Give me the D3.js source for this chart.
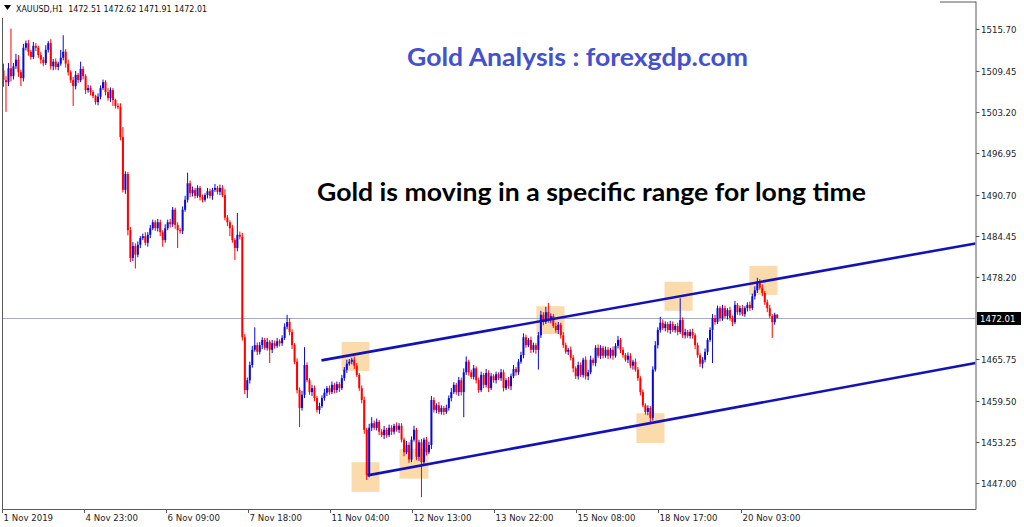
<!DOCTYPE html>
<html><head><meta charset="utf-8">
<script src="https://cdn.jsdelivr.net/npm/d3@7"></script>
<style>html,body{margin:0;padding:0;background:#fff;overflow:hidden}</style>
</head><body><svg id="c" width="1024" height="527"></svg>
<script>
// ---------------- data ----------------
const symbol = "XAUUSD,H1";
const firstOpen = 1509.5;
const closes = [
 1508.0,1507.7,1509.8,1508.6,1510.1,1511.1,1509.2,1508.3,1512.9,1513.6,
 1512.3,1511.5,1513.2,1512.9,1511.8,1511.1,1510.6,1512.6,1513.6,1510.1,
 1510.8,1510.0,1510.5,1511.4,1512.3,1510.5,1509.2,1508.0,1507.1,1508.8,
 1508.0,1509.7,1508.6,1506.5,1506.8,1506.2,1505.6,1504.7,1505.5,1506.8,
 1507.7,1506.2,1505.3,1506.5,1505.0,1504.1,1503.9,1499.4,1491.4,1493.8,
 1485.3,1481.1,1482.9,1481.6,1483.1,1484.1,1484.4,1483.4,1484.6,1485.6,
 1486.5,1485.6,1486.5,1485.0,1483.8,1485.6,1486.5,1486.2,1488.4,1486.1,
 1485.3,1485.2,1488.4,1489.9,1492.4,1490.9,1491.4,1490.5,1491.7,1490.3,
 1489.9,1490.6,1491.2,1490.5,1491.4,1491.7,1491.1,1491.7,1490.6,1487.2,
 1486.5,1485.6,1483.8,1482.6,1484.6,1484.3,1469.1,1461.1,1462.6,1464.9,
 1467.2,1467.9,1466.9,1467.9,1468.7,1467.5,1468.4,1467.2,1468.2,1467.8,
 1468.5,1468.2,1469.0,1470.7,1471.4,1469.9,1467.9,1465.4,1461.1,1458.4,
 1460.4,1464.9,1462.6,1460.8,1461.4,1459.9,1458.1,1458.7,1459.9,1460.7,
 1461.4,1460.8,1461.9,1461.1,1462.0,1461.4,1462.9,1464.2,1465.1,1465.4,
 1465.7,1464.8,1463.4,1461.4,1459.6,1455.1,1448.3,1455.4,1456.1,1455.4,
 1456.3,1454.8,1454.3,1455.1,1454.3,1455.4,1454.8,1455.7,1455.1,1455.7,
 1453.6,1451.7,1452.8,1450.6,1453.6,1455.1,1451.0,1453.2,1450.2,1453.6,
 1451.7,1452.8,1459.6,1458.1,1458.8,1457.8,1458.4,1457.8,1458.4,1459.9,
 1460.8,1461.9,1460.8,1462.6,1460.8,1463.8,1465.4,1463.8,1463.1,1464.4,
 1462.6,1461.1,1463.4,1461.9,1463.7,1461.4,1463.2,1462.6,1463.5,1462.9,
 1463.8,1461.4,1462.6,1461.7,1463.2,1464.3,1463.8,1465.4,1466.4,1469.1,
 1467.9,1468.7,1467.2,1467.9,1467.2,1469.4,1472.5,1471.4,1472.9,1471.7,
 1472.3,1470.8,1470.2,1471.0,1469.4,1467.9,1466.9,1467.2,1466.0,1464.4,
 1463.2,1464.9,1463.4,1465.7,1463.2,1463.8,1465.7,1465.2,1467.5,1466.3,
 1467.5,1466.3,1467.2,1466.3,1467.2,1466.3,1467.8,1468.7,1467.2,1466.4,
 1465.7,1466.3,1464.8,1465.4,1464.2,1462.9,1460.8,1458.8,1457.8,1458.4,
 1456.9,1464.2,1467.9,1470.2,1471.3,1470.5,1471.1,1470.2,1471.1,1470.2,
 1470.8,1469.9,1471.7,1469.4,1469.9,1469.3,1469.9,1469.4,1467.9,1466.4,
 1465.1,1465.7,1466.9,1468.7,1470.2,1472.0,1471.4,1473.5,1472.0,1473.5,
 1472.3,1473.2,1472.0,1471.4,1474.0,1472.9,1473.5,1472.6,1473.5,1474.0,
 1473.5,1475.3,1476.2,1477.5,1476.6,1475.8,1474.4,1473.5,1472.3,1471.4,
 1472.51,1472.01
];
const upperWick = [
 1.0,0.6,0.8,6.0,0.5,0.9,0.7,0.4,0.6,0.4,
 0.5,0.3,0.6,0.4,0.3,0.5,0.4,0.7,0.3,0.6,
 0.4,0.5,0.3,1.2,2.5,0.4,0.6,0.3,0.5,0.6,
 0.3,1.1,0.4,0.3,0.5,0.4,0.3,0.2,0.5,0.4,
 0.4,0.3,0.6,0.4,0.3,0.2,0.4,0.6,1.5,0.4,
 0.3,0.5,0.6,0.4,0.5,0.3,0.4,0.6,0.4,0.5,
 0.4,0.3,0.5,0.4,0.3,0.6,0.4,0.5,0.4,0.3,
 0.4,0.3,0.5,0.6,1.6,0.4,0.5,0.3,0.4,0.3,
 0.4,0.3,0.5,0.4,0.3,0.6,0.3,0.5,0.4,0.9,
 0.4,0.3,0.5,0.3,3.3,0.5,0.6,0.5,0.4,0.5,
 0.6,2.7,0.4,0.5,0.4,0.3,0.6,0.3,0.5,0.4,
 0.5,0.3,0.4,0.5,1.1,0.6,0.4,0.3,0.5,0.4,
 0.6,2.7,0.4,0.3,0.5,0.4,0.3,0.5,0.4,0.6,
 0.3,0.4,0.5,0.3,0.4,0.3,0.5,0.4,0.6,0.4,
 0.3,0.5,0.4,0.3,0.4,0.5,0.3,0.6,0.9,0.4,
 0.5,0.3,0.4,0.6,0.3,0.5,0.4,0.3,0.5,0.4,
 0.4,0.3,0.6,0.4,0.5,0.6,0.3,0.4,0.5,0.3,
 0.4,0.5,0.6,0.4,0.3,0.5,0.4,0.3,0.5,0.4,
 0.6,0.4,0.3,0.5,0.4,0.6,0.8,0.3,0.4,0.5,
 0.3,0.4,0.5,0.3,0.6,0.4,0.5,0.3,0.4,0.3,
 0.5,0.4,0.3,0.5,0.4,0.6,0.3,0.4,0.5,0.6,
 0.4,0.3,0.5,0.4,0.3,0.5,0.6,0.4,0.8,1.4,
 0.4,0.3,0.5,0.4,0.3,0.5,0.4,0.3,0.5,0.4,
 0.3,0.5,0.4,0.3,0.5,0.4,0.6,0.3,0.4,0.5,
 0.4,0.3,0.5,0.4,0.3,0.5,0.4,0.6,0.3,0.4,
 0.3,0.5,0.4,0.3,0.5,0.4,0.3,0.4,0.3,0.4,
 0.3,0.5,0.6,0.4,0.9,0.5,0.4,0.3,0.5,0.4,
 0.3,0.5,3.3,0.4,0.5,0.3,0.4,0.5,0.3,0.4,
 0.3,0.4,0.5,0.3,0.4,0.6,0.5,0.4,0.3,0.5,
 0.4,0.3,0.5,0.4,0.6,0.3,0.4,0.5,0.3,0.4,
 0.5,0.4,0.6,0.6,0.4,0.5,0.3,0.4,0.5,0.3,
 0.3,0.11
];
const lowerWick = [
 1.0,4.5,0.6,0.8,0.5,0.4,0.7,1.2,0.5,0.4,
 0.6,0.4,0.3,0.5,0.4,0.6,0.5,0.3,0.4,0.5,
 0.6,0.4,0.5,0.3,0.4,0.6,0.5,0.4,3.0,0.5,
 0.4,0.3,0.5,0.6,0.4,0.5,0.3,0.4,0.5,0.4,
 0.3,0.5,0.4,0.6,0.9,0.4,0.3,0.5,0.4,0.6,
 0.8,0.6,0.5,2.1,0.4,0.5,0.3,0.4,0.6,0.5,
 0.3,0.4,0.5,0.6,1.0,0.4,0.3,0.5,0.4,0.6,
 2.7,0.4,0.5,0.3,0.4,0.6,0.5,0.4,0.3,0.5,
 0.4,0.3,0.5,0.4,0.6,0.3,0.4,0.5,0.3,0.4,
 0.6,1.2,0.4,1.8,0.5,0.4,0.5,0.6,1.2,0.5,
 0.4,0.3,0.5,0.4,0.6,0.3,0.4,2.0,0.5,0.4,
 0.3,0.5,0.4,0.3,0.4,0.5,0.6,0.4,0.5,2.9,
 0.4,0.5,0.3,0.4,0.6,0.5,0.4,0.6,0.3,0.4,
 0.5,0.4,0.3,0.5,0.4,0.6,0.3,0.4,0.5,0.3,
 0.4,0.5,0.3,0.4,0.5,0.6,0.8,0.4,0.5,0.3,
 0.4,0.5,0.3,0.6,0.4,0.3,0.5,0.4,0.3,0.5,
 0.4,0.6,0.3,0.5,0.4,0.3,0.5,0.6,5.3,0.4,
 0.5,0.3,0.6,0.4,0.5,0.3,0.4,0.5,0.3,0.4,
 0.5,0.3,0.4,0.6,0.5,3.8,0.4,0.5,0.3,0.4,
 0.5,0.4,0.3,0.5,0.4,0.6,0.3,0.4,0.5,0.3,
 0.4,0.5,0.3,0.4,0.6,0.3,0.5,0.4,0.3,0.5,
 0.4,0.3,0.5,0.4,0.6,3.0,0.4,0.5,0.3,0.4,
 0.5,0.3,0.4,0.6,0.5,0.4,0.3,0.5,0.4,0.6,
 0.4,0.5,0.3,0.4,0.5,0.6,0.3,0.4,0.5,0.3,
 0.5,0.4,0.3,0.5,0.4,0.6,0.3,0.4,0.5,0.4,
 0.3,0.5,0.4,0.6,0.3,0.4,0.5,0.3,0.4,0.5,
 0.9,0.4,0.3,0.5,0.4,0.3,0.5,0.4,0.6,0.3,
 0.4,0.5,0.3,0.4,0.5,0.3,0.4,0.5,0.6,0.4,
 0.5,0.7,0.4,0.5,0.3,5.0,0.4,0.3,0.5,0.4,
 0.3,0.5,0.4,0.6,0.3,0.4,0.5,0.3,0.4,0.5,
 0.4,0.3,0.5,0.4,0.3,0.5,0.4,0.6,0.3,2.4,
 0.4,0.10
];
const timeLabels = ["1 Nov 2019","4 Nov 23:00","6 Nov 09:00","7 Nov 18:00","11 Nov 04:00",
                    "12 Nov 13:00","13 Nov 22:00","15 Nov 08:00","18 Nov 17:00","20 Nov 03:00"];
const timeLabelBars = [0,33,66,99,132,165,198,231,264,297];
const priceTicks = [1515.70,1509.45,1503.20,1496.95,1490.70,1484.45,1478.20,1465.75,1459.50,1453.25,1447.00];
const currentPrice = 1472.01;
const channelUpper = [[127.8,1465.6],[390.7,1483.3]];
const channelLower = [[146.3,1448.2],[390.7,1465.2]];
// zones: [firstBar, lastBar, lowPrice, highPrice]
const zones = [
 [135.9,147.1,1464.0,1468.4],
 [139.9,151.1,1445.7,1450.2],
 [159.2,170.8,1447.7,1452.2],
 [214.2,225.5,1469.6,1473.8],
 [254.4,265.7,1453.1,1457.6],
 [265.7,277.0,1473.1,1477.5],
 [299.8,311.1,1475.5,1479.9]
];
const titleText = "Gold Analysis : forexgdp.com";
const noteText = "Gold is moving in a specific range for long time";

// ---------------- build ----------------
const candles = closes.map((c,i)=>{
  const o = i===0 ? firstOpen : closes[i-1];
  return {i, o, c, h: Math.max(o,c)+upperWick[i], l: Math.min(o,c)-lowerWick[i]};
});

const svg = d3.select("#c");
const L = 2, R = 975.5, T = 1.5, B = 509;
const x = d3.scaleLinear().domain([0, 390.7]).range([3.5, 975.5]);
const y = d3.scaleLinear().domain([1447.00, 1515.70]).range([483.3, 29.3]);

svg.append("defs").append("clipPath").attr("id","plot")
  .append("rect").attr("x",L).attr("y",T).attr("width",R-L).attr("height",B-T);

const plot = svg.append("g").attr("clip-path","url(#plot)");

// zones
plot.selectAll("rect.zone").data(zones).join("rect").attr("class","zone")
  .attr("x",d=>x(d[0])).attr("width",d=>x(d[1])-x(d[0]))
  .attr("y",d=>y(d[3])).attr("height",d=>y(d[2])-y(d[3]))
  .attr("fill","#fbd7a3").attr("opacity",0.9);

// current price line
plot.append("line").attr("x1",L).attr("x2",R)
  .attr("y1",Math.round(y(currentPrice))+0.5).attr("y2",Math.round(y(currentPrice))+0.5)
  .attr("stroke","#a3adbf").attr("stroke-width",1);

// candles
const bull = "#0a0ad8", bear = "#ff0000";
const cg = plot.append("g");
cg.selectAll("line.wick").data(candles).join("line").attr("class","wick")
  .attr("x1",d=>x(d.i)).attr("x2",d=>x(d.i))
  .attr("y1",d=>y(d.h)).attr("y2",d=>y(d.l))
  .attr("stroke",d=>d.c>=d.o?bull:bear).attr("stroke-width",1);
cg.selectAll("rect.body").data(candles).join("rect").attr("class","body")
  .attr("x",d=>x(d.i)-1).attr("width",2)
  .attr("y",d=>y(Math.max(d.o,d.c)))
  .attr("height",d=>Math.max(1,Math.abs(y(d.o)-y(d.c))))
  .attr("fill",d=>d.c>=d.o?bull:bear);

// channel lines
const ln = d3.line().x(d=>x(d[0])).y(d=>y(d[1]));
[channelUpper, channelLower].forEach(ch=>{
  plot.append("path").attr("d",ln(ch)).attr("fill","none")
    .attr("stroke","#1212b8").attr("stroke-width",2.6);
});

// frame
const fr = svg.append("g").attr("stroke","#5a5a5a").attr("stroke-width",1).attr("fill","none");
fr.append("line").attr("x1",L+0.5).attr("x2",L+0.5).attr("y1",18).attr("y2",B+0.5);
fr.append("line").attr("x1",L).attr("x2",R+0.5).attr("y1",B+0.5).attr("y2",B+0.5);
fr.append("line").attr("x1",R+0.5).attr("x2",R+0.5).attr("y1",T).attr("y2",B+0.5);
fr.append("line").attr("x1",940).attr("x2",R+0.5).attr("y1",T+0.5).attr("y2",T+0.5);

const axisFont = "DejaVu Sans, Verdana, sans-serif";

// right price axis
const ra = svg.append("g");
priceTicks.forEach(p=>{
  const yy = Math.round(y(p))+0.5;
  ra.append("line").attr("x1",R+0.5).attr("x2",R+4).attr("y1",yy).attr("y2",yy).attr("stroke","#5a5a5a");
  ra.append("text").attr("x",981).attr("y",yy+3).text(p.toFixed(2))
    .attr("font-family",axisFont).attr("font-size",8.6).attr("fill","#222");
});
const cy = Math.round(y(currentPrice))+0.5;
ra.append("rect").attr("x",977).attr("y",cy-6.5).attr("width",44).attr("height",13).attr("fill","#000");
ra.append("text").attr("x",980).attr("y",cy+3.2).text(currentPrice.toFixed(2))
  .attr("font-family",axisFont).attr("font-size",8.6).attr("fill","#fff");

// bottom time axis
const ba = svg.append("g");
timeLabelBars.forEach((b,k)=>{
  const xx = Math.round(x(b)-1.8)+0.5;
  ba.append("line").attr("x1",xx).attr("x2",xx).attr("y1",B).attr("y2",B+4).attr("stroke","#5a5a5a");
  ba.append("text").attr("x",xx+1).attr("y",521).text(timeLabels[k])
    .attr("font-family",axisFont).attr("font-size",8.6).attr("fill","#222");
});

// header
const last = candles[candles.length-1];
svg.append("path").attr("d","M4,5 L11,5 L7.5,10 Z").attr("fill","#000");
svg.append("text").attr("x",16).attr("y",12).attr("xml:space","preserve")
  .text(`${symbol}  ${last.o.toFixed(2)} ${last.h.toFixed(2)} ${last.l.toFixed(2)} ${last.c.toFixed(2)}`)
  .attr("font-family",axisFont).attr("font-size",9).attr("fill","#111")
  .attr("textLength",191).attr("lengthAdjust","spacingAndGlyphs");

// annotation texts
svg.append("text").attr("x",407).attr("y",66).text(titleText)
  .attr("font-family","Lato, 'Open Sans', sans-serif").attr("font-weight","bold").attr("font-size",25)
  .attr("fill","#4450cc").attr("textLength",341).attr("lengthAdjust","spacingAndGlyphs");
svg.append("text").attr("x",317).attr("y",201).text(noteText)
  .attr("font-family","Lato, 'Open Sans', sans-serif").attr("font-weight","bold").attr("font-size",24.5)
  .attr("fill","#000").attr("textLength",549).attr("lengthAdjust","spacingAndGlyphs");
</script>
</body></html>
